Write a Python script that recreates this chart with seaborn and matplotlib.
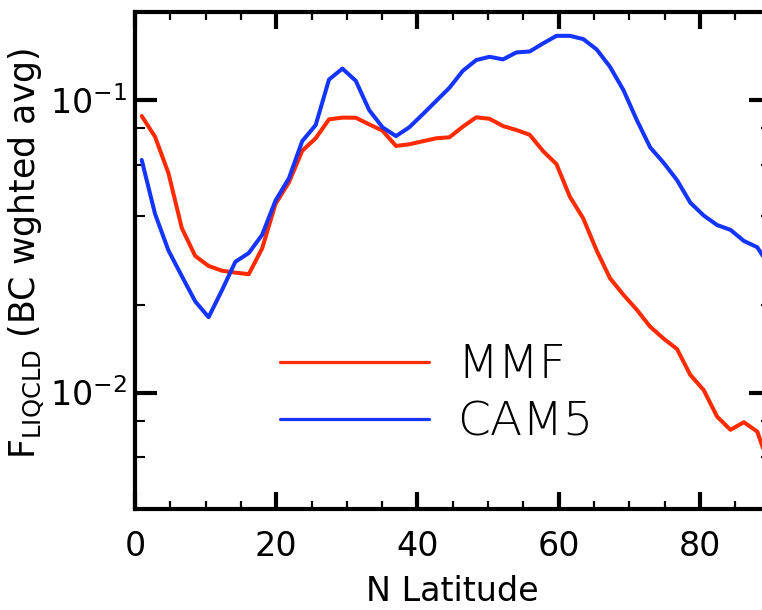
import matplotlib
matplotlib.use("Agg")
import matplotlib.pyplot as plt
from matplotlib.ticker import FixedLocator, FixedFormatter, MultipleLocator, NullFormatter
import pandas as pd
import seaborn as sns

# Zonal-mean liquid-cloud fraction (BC-weighted) on the 1.9-degree latitude grid
latitude = [0.95, 2.84, 4.74, 6.63, 8.53, 10.42, 12.32, 14.21, 16.11, 18.00,
            19.89, 21.79, 23.68, 25.58, 27.47, 29.37, 31.26, 33.16, 35.05, 36.95,
            38.84, 40.74, 42.63, 44.53, 46.42, 48.32, 50.21, 52.11, 54.00, 55.89,
            57.79, 59.68, 61.58, 63.47, 65.37, 67.26, 69.16, 71.05, 72.95, 74.84,
            76.74, 78.63, 80.53, 82.42, 84.32, 86.21, 88.11, 90.00]

mmf = [0.0882, 0.0749, 0.0562, 0.0365, 0.0293, 0.0271, 0.0261, 0.0257, 0.0254, 0.0311,
       0.0441, 0.0523, 0.0671, 0.0740, 0.0859, 0.0871, 0.0870, 0.0826, 0.0786, 0.0697,
       0.0706, 0.0723, 0.0740, 0.0746, 0.0811, 0.0873, 0.0863, 0.0815, 0.0790, 0.0761,
       0.0669, 0.0604, 0.0467, 0.0394, 0.0306, 0.0246, 0.0216, 0.0192, 0.0168, 0.0153,
       0.0141, 0.0115, 0.0102, 0.00828, 0.00746, 0.00792, 0.00736, 0.00544]

cam5 = [0.0624, 0.0408, 0.0306, 0.0250, 0.0205, 0.0181, 0.0224, 0.0280, 0.0300, 0.0346,
        0.0453, 0.0540, 0.0724, 0.0821, 0.1175, 0.1281, 0.1164, 0.0924, 0.0807, 0.0753,
        0.0807, 0.0894, 0.0992, 0.1102, 0.1259, 0.1370, 0.1406, 0.1377, 0.1455, 0.1466,
        0.1562, 0.1658, 0.1658, 0.1616, 0.1490, 0.1299, 0.1082, 0.0855, 0.0689, 0.0611,
        0.0533, 0.0446, 0.0403, 0.0374, 0.0360, 0.0330, 0.0314, 0.0267]

models = ["MMF", "CAM5"]
model_colors = ["#ff2a00", "#1434ff"]

x_ticks = [0, 20, 40, 60, 80]
y_ticks = [1e-2, 1e-1]
y_tick_labels = [r"$10^{-2}$", r"$10^{-1}$"]
y_minor_ticks = [4e-3, 6e-3, 8e-3, 2e-2, 4e-2, 6e-2, 8e-2]

sns.set_theme(style="ticks")
plt.rcParams["font.family"] = ["DejaVu Sans"]
plt.rcParams["text.color"] = "black"
plt.rcParams["axes.labelcolor"] = "black"
plt.rcParams["xtick.color"] = "black"
plt.rcParams["ytick.color"] = "black"

df = pd.DataFrame({
    "lat": latitude * 2,
    "value": mmf + cam5,
    "model": [models[0]] * len(mmf) + [models[1]] * len(cam5),
})

fig = plt.figure(figsize=(7.62, 6.10), dpi=100)
ax = fig.add_axes([0.17717, 0.16557, 0.8341, 0.81475])

sns.lineplot(data=df, x="lat", y="value", hue="model", hue_order=models,
             palette=model_colors, linewidth=2.9, ax=ax)

ax.set_yscale("log")
ax.set_xlim(0, 90)
ax.set_ylim(0.004, 0.2)

ax.xaxis.set_major_locator(FixedLocator(x_ticks))
ax.xaxis.set_minor_locator(MultipleLocator(5))
ax.yaxis.set_major_locator(FixedLocator(y_ticks))
ax.yaxis.set_major_formatter(FixedFormatter(y_tick_labels))
ax.yaxis.set_minor_locator(FixedLocator(y_minor_ticks))
ax.yaxis.set_minor_formatter(NullFormatter())

for side in ax.spines.values():
    side.set_linewidth(3.0)
    side.set_color("black")

ax.tick_params(axis="x", which="major", direction="in", length=12, width=3,
               top=True, bottom=True, labelsize=24, pad=15, colors="black")
ax.tick_params(axis="x", which="minor", direction="in", length=6, width=1.6,
               top=True, bottom=True)
ax.tick_params(axis="y", which="major", direction="in", length=16, width=3,
               left=True, right=True, labelsize=24, pad=6, colors="black")
ax.tick_params(axis="y", which="minor", direction="in", length=7.5, width=1.5,
               left=True, right=True)

ax.set_xlabel("N Latitude", fontsize=24, labelpad=9)
ax.set_ylabel(r"F$_{\mathrm{LIQCLD}}$ (BC wghted avg)", fontsize=25)
ax.yaxis.set_label_coords(-0.14, 0.515)

leg = ax.legend(loc="center left", bbox_to_anchor=(0.3675, 0.354),
                bbox_transform=fig.transFigure, frameon=False,
                handlelength=3.15, handletextpad=0.6,
                labelspacing=0.29, borderpad=0, borderaxespad=0,
                prop={"family": "DejaVu Sans", "size": 34, "weight": "light"})
for line in leg.get_lines():
    line.set_linewidth(2.3)
for text in leg.get_texts():
    text.set_color("black")

fig.savefig("out.png", dpi=100)
